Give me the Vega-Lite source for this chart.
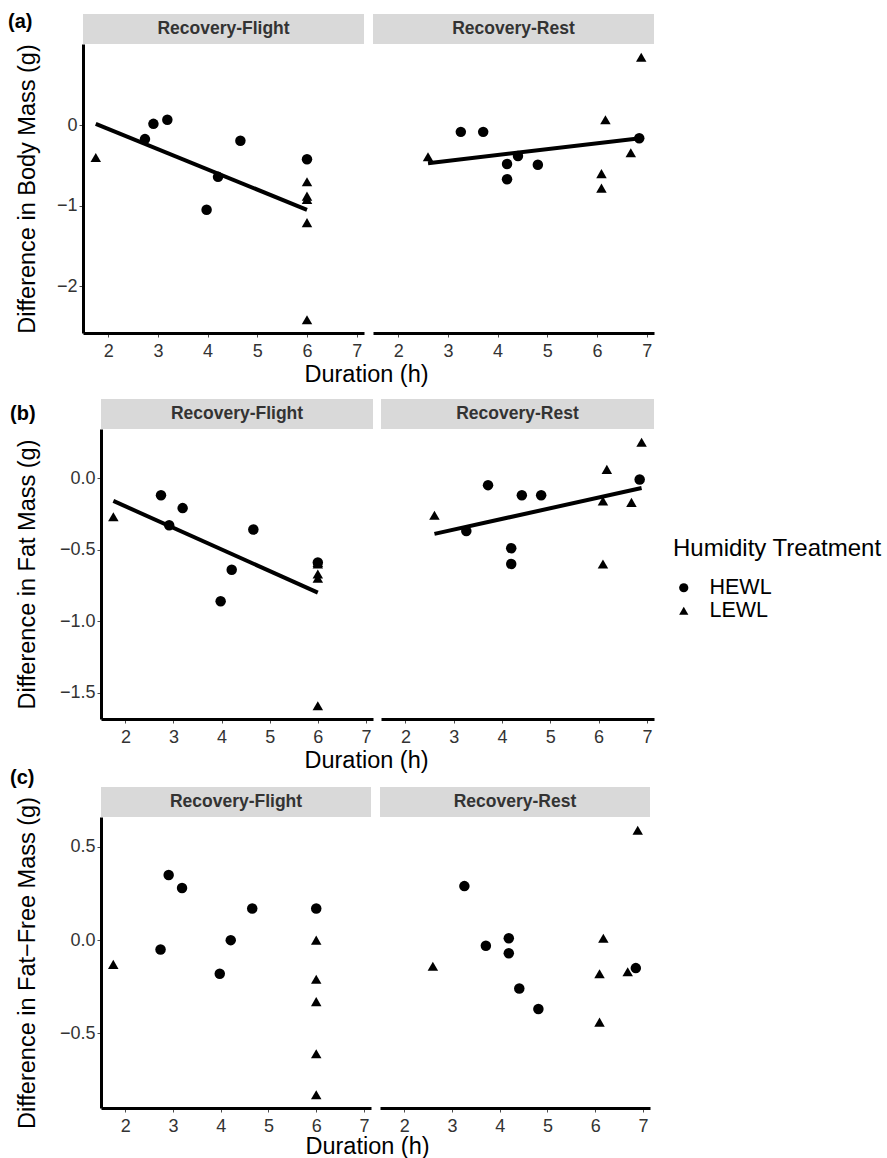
{
"$schema": "https://vega.github.io/schema/vega-lite/v6.json",
"padding": {"left": 5, "top": 12, "right": 0, "bottom": 0},
"background": "white",
"config": {
 "font": "Liberation Sans",
 "view": {"stroke": null},
 "axis": {"grid": false, "domainColor": "black", "domainWidth": 3, "tickColor": "#4d4d4d", "tickSize": 4, "labelFontSize": 18, "labelColor": "#333333", "titleFontSize": 23.5, "titleFontWeight": "normal", "titleColor": "black", "labelPadding": 2},
 "axisX": {"labelPadding": 5},
 "title": {"color": "black"}
},
"datasets": {
 "pts": [
  {"m":"Body","p":"Recovery-Flight","h":"HEWL","x":2.74,"y":-0.17},
  {"m":"Body","p":"Recovery-Flight","h":"HEWL","x":2.91,"y":0.02},
  {"m":"Body","p":"Recovery-Flight","h":"HEWL","x":3.19,"y":0.07},
  {"m":"Body","p":"Recovery-Flight","h":"HEWL","x":3.98,"y":-1.05},
  {"m":"Body","p":"Recovery-Flight","h":"HEWL","x":4.21,"y":-0.64},
  {"m":"Body","p":"Recovery-Flight","h":"HEWL","x":4.66,"y":-0.19},
  {"m":"Body","p":"Recovery-Flight","h":"HEWL","x":6.0,"y":-0.42},
  {"m":"Body","p":"Recovery-Flight","h":"LEWL","x":1.75,"y":-0.40},
  {"m":"Body","p":"Recovery-Flight","h":"LEWL","x":6.0,"y":-0.70},
  {"m":"Body","p":"Recovery-Flight","h":"LEWL","x":6.0,"y":-0.88},
  {"m":"Body","p":"Recovery-Flight","h":"LEWL","x":6.0,"y":-0.92},
  {"m":"Body","p":"Recovery-Flight","h":"LEWL","x":6.0,"y":-1.21},
  {"m":"Body","p":"Recovery-Flight","h":"LEWL","x":6.0,"y":-2.42},
  {"m":"Body","p":"Recovery-Rest","h":"HEWL","x":3.26,"y":-0.08},
  {"m":"Body","p":"Recovery-Rest","h":"HEWL","x":3.71,"y":-0.08},
  {"m":"Body","p":"Recovery-Rest","h":"HEWL","x":4.19,"y":-0.48},
  {"m":"Body","p":"Recovery-Rest","h":"HEWL","x":4.19,"y":-0.67},
  {"m":"Body","p":"Recovery-Rest","h":"HEWL","x":4.41,"y":-0.38},
  {"m":"Body","p":"Recovery-Rest","h":"HEWL","x":4.81,"y":-0.49},
  {"m":"Body","p":"Recovery-Rest","h":"HEWL","x":6.85,"y":-0.16},
  {"m":"Body","p":"Recovery-Rest","h":"LEWL","x":2.60,"y":-0.39},
  {"m":"Body","p":"Recovery-Rest","h":"LEWL","x":6.09,"y":-0.60},
  {"m":"Body","p":"Recovery-Rest","h":"LEWL","x":6.09,"y":-0.78},
  {"m":"Body","p":"Recovery-Rest","h":"LEWL","x":6.17,"y":0.07},
  {"m":"Body","p":"Recovery-Rest","h":"LEWL","x":6.68,"y":-0.34},
  {"m":"Body","p":"Recovery-Rest","h":"LEWL","x":6.89,"y":0.85},
  {"m":"Fat","p":"Recovery-Flight","h":"HEWL","x":2.74,"y":-0.12},
  {"m":"Fat","p":"Recovery-Flight","h":"HEWL","x":2.91,"y":-0.33},
  {"m":"Fat","p":"Recovery-Flight","h":"HEWL","x":3.19,"y":-0.21},
  {"m":"Fat","p":"Recovery-Flight","h":"HEWL","x":3.98,"y":-0.86},
  {"m":"Fat","p":"Recovery-Flight","h":"HEWL","x":4.21,"y":-0.64},
  {"m":"Fat","p":"Recovery-Flight","h":"HEWL","x":4.66,"y":-0.36},
  {"m":"Fat","p":"Recovery-Flight","h":"HEWL","x":6.0,"y":-0.59},
  {"m":"Fat","p":"Recovery-Flight","h":"LEWL","x":1.75,"y":-0.27},
  {"m":"Fat","p":"Recovery-Flight","h":"LEWL","x":6.0,"y":-0.70},
  {"m":"Fat","p":"Recovery-Flight","h":"LEWL","x":6.0,"y":-0.67},
  {"m":"Fat","p":"Recovery-Flight","h":"LEWL","x":6.0,"y":-0.59},
  {"m":"Fat","p":"Recovery-Flight","h":"LEWL","x":6.0,"y":-0.60},
  {"m":"Fat","p":"Recovery-Flight","h":"LEWL","x":6.0,"y":-1.59},
  {"m":"Fat","p":"Recovery-Rest","h":"HEWL","x":3.26,"y":-0.37},
  {"m":"Fat","p":"Recovery-Rest","h":"HEWL","x":3.71,"y":-0.05},
  {"m":"Fat","p":"Recovery-Rest","h":"HEWL","x":4.19,"y":-0.49},
  {"m":"Fat","p":"Recovery-Rest","h":"HEWL","x":4.19,"y":-0.60},
  {"m":"Fat","p":"Recovery-Rest","h":"HEWL","x":4.41,"y":-0.12},
  {"m":"Fat","p":"Recovery-Rest","h":"HEWL","x":4.81,"y":-0.12},
  {"m":"Fat","p":"Recovery-Rest","h":"HEWL","x":6.85,"y":-0.01},
  {"m":"Fat","p":"Recovery-Rest","h":"LEWL","x":2.60,"y":-0.26},
  {"m":"Fat","p":"Recovery-Rest","h":"LEWL","x":6.09,"y":-0.16},
  {"m":"Fat","p":"Recovery-Rest","h":"LEWL","x":6.09,"y":-0.60},
  {"m":"Fat","p":"Recovery-Rest","h":"LEWL","x":6.17,"y":0.06},
  {"m":"Fat","p":"Recovery-Rest","h":"LEWL","x":6.68,"y":-0.17},
  {"m":"Fat","p":"Recovery-Rest","h":"LEWL","x":6.89,"y":0.25},
  {"m":"FFM","p":"Recovery-Flight","h":"HEWL","x":2.74,"y":-0.05},
  {"m":"FFM","p":"Recovery-Flight","h":"HEWL","x":2.91,"y":0.35},
  {"m":"FFM","p":"Recovery-Flight","h":"HEWL","x":3.19,"y":0.28},
  {"m":"FFM","p":"Recovery-Flight","h":"HEWL","x":3.98,"y":-0.18},
  {"m":"FFM","p":"Recovery-Flight","h":"HEWL","x":4.21,"y":0.00},
  {"m":"FFM","p":"Recovery-Flight","h":"HEWL","x":4.66,"y":0.17},
  {"m":"FFM","p":"Recovery-Flight","h":"HEWL","x":6.0,"y":0.17},
  {"m":"FFM","p":"Recovery-Flight","h":"LEWL","x":1.75,"y":-0.13},
  {"m":"FFM","p":"Recovery-Flight","h":"LEWL","x":6.0,"y":0.00},
  {"m":"FFM","p":"Recovery-Flight","h":"LEWL","x":6.0,"y":-0.21},
  {"m":"FFM","p":"Recovery-Flight","h":"LEWL","x":6.0,"y":-0.33},
  {"m":"FFM","p":"Recovery-Flight","h":"LEWL","x":6.0,"y":-0.61},
  {"m":"FFM","p":"Recovery-Flight","h":"LEWL","x":6.0,"y":-0.83},
  {"m":"FFM","p":"Recovery-Rest","h":"HEWL","x":3.26,"y":0.29},
  {"m":"FFM","p":"Recovery-Rest","h":"HEWL","x":3.71,"y":-0.03},
  {"m":"FFM","p":"Recovery-Rest","h":"HEWL","x":4.19,"y":0.01},
  {"m":"FFM","p":"Recovery-Rest","h":"HEWL","x":4.19,"y":-0.07},
  {"m":"FFM","p":"Recovery-Rest","h":"HEWL","x":4.41,"y":-0.26},
  {"m":"FFM","p":"Recovery-Rest","h":"HEWL","x":4.81,"y":-0.37},
  {"m":"FFM","p":"Recovery-Rest","h":"HEWL","x":6.85,"y":-0.15},
  {"m":"FFM","p":"Recovery-Rest","h":"LEWL","x":2.60,"y":-0.14},
  {"m":"FFM","p":"Recovery-Rest","h":"LEWL","x":6.09,"y":-0.44},
  {"m":"FFM","p":"Recovery-Rest","h":"LEWL","x":6.09,"y":-0.18},
  {"m":"FFM","p":"Recovery-Rest","h":"LEWL","x":6.17,"y":0.01},
  {"m":"FFM","p":"Recovery-Rest","h":"LEWL","x":6.68,"y":-0.17},
  {"m":"FFM","p":"Recovery-Rest","h":"LEWL","x":6.89,"y":0.59}
 ],
 "fits": [
  {"m":"Body","p":"Recovery-Flight","x":1.75,"y":0.02},
  {"m":"Body","p":"Recovery-Flight","x":6.0,"y":-1.05},
  {"m":"Body","p":"Recovery-Rest","x":2.60,"y":-0.47},
  {"m":"Body","p":"Recovery-Rest","x":6.87,"y":-0.16},
  {"m":"Fat","p":"Recovery-Flight","x":1.75,"y":-0.16},
  {"m":"Fat","p":"Recovery-Flight","x":6.0,"y":-0.80},
  {"m":"Fat","p":"Recovery-Rest","x":2.60,"y":-0.39},
  {"m":"Fat","p":"Recovery-Rest","x":6.89,"y":-0.07}
 ],
 "stripF": [{"s": "Recovery-Flight"}],
 "stripR": [{"s": "Recovery-Rest"}],
 "none": []
},
"spacing": 12,
"vconcat": [
 {
  "title": {"text": "(a)", "anchor": "start", "frame": "bounds", "fontSize": 20, "fontWeight": "bold", "offset": -18, "dx": 3},
  "vconcat": [{
   "title": {"text": "Duration (h)", "orient": "bottom", "anchor": "middle", "fontSize": 23.5, "fontWeight": "normal", "baseline": "top", "offset": 3, "dx": 37},
   "spacing": 9,
   "hconcat": [
    {"width": 1, "height": 1, "data": {"name": "none"}, "mark": {"type": "point", "opacity": 0}, "encoding": {}},
    {"spacing": 0, "bounds": "flush", "vconcat": [
     {"width": 281, "height": 30, "data": {"name": "stripF"}, "view": {"fill": "#d9d9d9", "stroke": null}, "mark": {"type": "text", "fontSize": 17.5, "fontWeight": "bold", "color": "#333333"}, "encoding": {"text": {"field": "s"}}},
     {"width": 281, "height": 289, "layer": [
      {"data": {"name": "pts"}, "transform": [{"filter": "datum.m === 'Body' && datum.p === 'Recovery-Flight'"}], "mark": {"type": "point", "filled": true, "color": "black", "opacity": 1, "size": 110},
       "encoding": {
        "x": {"field": "x", "type": "quantitative", "scale": {"domain": [1.493, 7.147], "nice": false, "zero": false}, "axis": {"values": [2,3,4,5,6,7], "format": "d", "title": null}},
        "y": {"field": "y", "type": "quantitative", "scale": {"domain": [-2.584, 1.014], "nice": false, "zero": false}, "axis": {"values": [-2,-1,0], "format": "d", "title": "Difference in Body Mass (g)", "titlePadding": 17}},
        "shape": {"field": "h", "type": "nominal", "scale": {"domain": ["HEWL","LEWL"], "range": ["circle","triangle-up"]}, "legend": {"title": "Humidity Treatment", "orient": "none", "legendX": 668, "legendY": 523, "padding": 0, "titleFontSize": 24, "titleFontWeight": "normal", "titleColor": "black", "titleLimit": 400, "titlePadding": 16, "labelFontSize": 21.5, "labelColor": "black", "symbolSize": 85, "symbolFillColor": "black", "symbolStrokeColor": "black", "symbolOffset": 0, "labelOffset": 15, "rowPadding": 0}}}},
      {"data": {"name": "fits"}, "transform": [{"filter": "datum.m === 'Body' && datum.p === 'Recovery-Flight'"}], "mark": {"type": "line", "color": "black", "strokeWidth": 4},
       "encoding": {"x": {"field": "x", "type": "quantitative"}, "y": {"field": "y", "type": "quantitative"}}}
     ]}
    ]},
    {"spacing": 0, "bounds": "flush", "vconcat": [
     {"width": 281, "height": 30, "data": {"name": "stripR"}, "view": {"fill": "#d9d9d9", "stroke": null}, "mark": {"type": "text", "fontSize": 17.5, "fontWeight": "bold", "color": "#333333"}, "encoding": {"text": {"field": "s"}}},
     {"width": 281, "height": 289, "layer": [
      {"data": {"name": "pts"}, "transform": [{"filter": "datum.m === 'Body' && datum.p === 'Recovery-Rest'"}], "mark": {"type": "point", "filled": true, "color": "black", "opacity": 1, "size": 110},
       "encoding": {
        "x": {"field": "x", "type": "quantitative", "scale": {"domain": [1.493, 7.147], "nice": false, "zero": false}, "axis": {"values": [2,3,4,5,6,7], "format": "d", "title": null}},
        "y": {"field": "y", "type": "quantitative", "scale": {"domain": [-2.584, 1.014], "nice": false, "zero": false}, "axis": null},
        "shape": {"field": "h", "type": "nominal", "scale": {"domain": ["HEWL","LEWL"], "range": ["circle","triangle-up"]}, "legend": {"title": "Humidity Treatment", "orient": "none", "legendX": 668, "legendY": 523, "padding": 0, "titleFontSize": 24, "titleFontWeight": "normal", "titleColor": "black", "titleLimit": 400, "titlePadding": 16, "labelFontSize": 21.5, "labelColor": "black", "symbolSize": 85, "symbolFillColor": "black", "symbolStrokeColor": "black", "symbolOffset": 0, "labelOffset": 15, "rowPadding": 0}}}},
      {"data": {"name": "fits"}, "transform": [{"filter": "datum.m === 'Body' && datum.p === 'Recovery-Rest'"}], "mark": {"type": "line", "color": "black", "strokeWidth": 4},
       "encoding": {"x": {"field": "x", "type": "quantitative"}, "y": {"field": "y", "type": "quantitative"}}}
     ]}
    ]}
   ]
  }]
 },
 {
  "spacing": -5,
  "vconcat": [
   {
    "title": {"text": "(b)", "anchor": "start", "frame": "bounds", "fontSize": 20, "fontWeight": "bold", "offset": -25, "dx": 5},
    "vconcat": [{
     "title": {"text": "Duration (h)", "orient": "bottom", "anchor": "middle", "fontSize": 23.5, "fontWeight": "normal", "baseline": "top", "offset": 3, "dx": 37},
     "spacing": 8,
     "hconcat": [
      {"width": 2, "height": 1, "data": {"name": "none"}, "mark": {"type": "point", "opacity": 0}, "encoding": {}},
      {"spacing": 0, "bounds": "flush", "vconcat": [
       {"width": 272, "height": 30, "data": {"name": "stripF"}, "view": {"fill": "#d9d9d9", "stroke": null}, "mark": {"type": "text", "fontSize": 17.5, "fontWeight": "bold", "color": "#333333"}, "encoding": {"text": {"field": "s"}}},
       {"width": 272, "height": 290, "layer": [
        {"data": {"name": "pts"}, "transform": [{"filter": "datum.m === 'Fat' && datum.p === 'Recovery-Flight'"}], "mark": {"type": "point", "filled": true, "color": "black", "opacity": 1, "size": 110},
         "encoding": {
          "x": {"field": "x", "type": "quantitative", "scale": {"domain": [1.493, 7.147], "nice": false, "zero": false}, "axis": {"values": [2,3,4,5,6,7], "format": "d", "title": null}},
          "y": {"field": "y", "type": "quantitative", "scale": {"domain": [-1.682, 0.342], "nice": false, "zero": false}, "axis": {"values": [-1.5,-1,-0.5,0], "format": ".1f", "title": "Difference in Fat Mass (g)", "titlePadding": 20}},
          "shape": {"field": "h", "type": "nominal", "scale": {"domain": ["HEWL","LEWL"], "range": ["circle","triangle-up"]}, "legend": {"title": "Humidity Treatment", "orient": "none", "legendX": 668, "legendY": 523, "padding": 0, "titleFontSize": 24, "titleFontWeight": "normal", "titleColor": "black", "titleLimit": 400, "titlePadding": 16, "labelFontSize": 21.5, "labelColor": "black", "symbolSize": 85, "symbolFillColor": "black", "symbolStrokeColor": "black", "symbolOffset": 0, "labelOffset": 15, "rowPadding": 0}}}},
        {"data": {"name": "fits"}, "transform": [{"filter": "datum.m === 'Fat' && datum.p === 'Recovery-Flight'"}], "mark": {"type": "line", "color": "black", "strokeWidth": 4},
         "encoding": {"x": {"field": "x", "type": "quantitative"}, "y": {"field": "y", "type": "quantitative"}}}
       ]}
      ]},
      {"spacing": 0, "bounds": "flush", "vconcat": [
       {"width": 273, "height": 30, "data": {"name": "stripR"}, "view": {"fill": "#d9d9d9", "stroke": null}, "mark": {"type": "text", "fontSize": 17.5, "fontWeight": "bold", "color": "#333333"}, "encoding": {"text": {"field": "s"}}},
       {"width": 273, "height": 290, "layer": [
        {"data": {"name": "pts"}, "transform": [{"filter": "datum.m === 'Fat' && datum.p === 'Recovery-Rest'"}], "mark": {"type": "point", "filled": true, "color": "black", "opacity": 1, "size": 110},
         "encoding": {
          "x": {"field": "x", "type": "quantitative", "scale": {"domain": [1.493, 7.147], "nice": false, "zero": false}, "axis": {"values": [2,3,4,5,6,7], "format": "d", "title": null}},
          "y": {"field": "y", "type": "quantitative", "scale": {"domain": [-1.682, 0.342], "nice": false, "zero": false}, "axis": null},
          "shape": {"field": "h", "type": "nominal", "scale": {"domain": ["HEWL","LEWL"], "range": ["circle","triangle-up"]}, "legend": {"title": "Humidity Treatment", "orient": "none", "legendX": 668, "legendY": 523, "padding": 0, "titleFontSize": 24, "titleFontWeight": "normal", "titleColor": "black", "titleLimit": 400, "titlePadding": 16, "labelFontSize": 21.5, "labelColor": "black", "symbolSize": 85, "symbolFillColor": "black", "symbolStrokeColor": "black", "symbolOffset": 0, "labelOffset": 15, "rowPadding": 0}}}},
        {"data": {"name": "fits"}, "transform": [{"filter": "datum.m === 'Fat' && datum.p === 'Recovery-Rest'"}], "mark": {"type": "line", "color": "black", "strokeWidth": 4},
         "encoding": {"x": {"field": "x", "type": "quantitative"}, "y": {"field": "y", "type": "quantitative"}}}
       ]}
      ]}
     ]
    }]
   },
   {
    "title": {"text": "(c)", "anchor": "start", "frame": "bounds", "fontSize": 20, "fontWeight": "bold", "offset": -1, "dx": 5},
    "vconcat": [{
     "title": {"text": "Duration (h)", "orient": "bottom", "anchor": "middle", "fontSize": 23.5, "fontWeight": "normal", "baseline": "top", "offset": 0, "dx": 40},
     "spacing": 9,
     "hconcat": [
      {"width": 1, "height": 1, "data": {"name": "none"}, "mark": {"type": "point", "opacity": 0}, "encoding": {}},
      {"spacing": 0, "bounds": "flush", "vconcat": [
       {"width": 270, "height": 30, "data": {"name": "stripF"}, "view": {"fill": "#d9d9d9", "stroke": null}, "mark": {"type": "text", "fontSize": 17.5, "fontWeight": "bold", "color": "#333333"}, "encoding": {"text": {"field": "s"}}},
       {"width": 270, "height": 291, "layer": [
        {"data": {"name": "pts"}, "transform": [{"filter": "datum.m === 'FFM' && datum.p === 'Recovery-Flight'"}], "mark": {"type": "point", "filled": true, "color": "black", "opacity": 1, "size": 110},
         "encoding": {
          "x": {"field": "x", "type": "quantitative", "scale": {"domain": [1.493, 7.147], "nice": false, "zero": false}, "axis": {"values": [2,3,4,5,6,7], "format": "d", "title": null}},
          "y": {"field": "y", "type": "quantitative", "scale": {"domain": [-0.901, 0.661], "nice": false, "zero": false}, "axis": {"values": [-0.5,0,0.5], "format": ".1f", "title": "Difference in Fat−Free Mass (g)", "titlePadding": 20}},
          "shape": {"field": "h", "type": "nominal", "scale": {"domain": ["HEWL","LEWL"], "range": ["circle","triangle-up"]}, "legend": {"title": "Humidity Treatment", "orient": "none", "legendX": 668, "legendY": 523, "padding": 0, "titleFontSize": 24, "titleFontWeight": "normal", "titleColor": "black", "titleLimit": 400, "titlePadding": 16, "labelFontSize": 21.5, "labelColor": "black", "symbolSize": 85, "symbolFillColor": "black", "symbolStrokeColor": "black", "symbolOffset": 0, "labelOffset": 15, "rowPadding": 0}}}}
       ]}
      ]},
      {"spacing": 0, "bounds": "flush", "vconcat": [
       {"width": 270, "height": 30, "data": {"name": "stripR"}, "view": {"fill": "#d9d9d9", "stroke": null}, "mark": {"type": "text", "fontSize": 17.5, "fontWeight": "bold", "color": "#333333"}, "encoding": {"text": {"field": "s"}}},
       {"width": 270, "height": 291, "layer": [
        {"data": {"name": "pts"}, "transform": [{"filter": "datum.m === 'FFM' && datum.p === 'Recovery-Rest'"}], "mark": {"type": "point", "filled": true, "color": "black", "opacity": 1, "size": 110},
         "encoding": {
          "x": {"field": "x", "type": "quantitative", "scale": {"domain": [1.493, 7.147], "nice": false, "zero": false}, "axis": {"values": [2,3,4,5,6,7], "format": "d", "title": null}},
          "y": {"field": "y", "type": "quantitative", "scale": {"domain": [-0.901, 0.661], "nice": false, "zero": false}, "axis": null},
          "shape": {"field": "h", "type": "nominal", "scale": {"domain": ["HEWL","LEWL"], "range": ["circle","triangle-up"]}, "legend": {"title": "Humidity Treatment", "orient": "none", "legendX": 668, "legendY": 523, "padding": 0, "titleFontSize": 24, "titleFontWeight": "normal", "titleColor": "black", "titleLimit": 400, "titlePadding": 16, "labelFontSize": 21.5, "labelColor": "black", "symbolSize": 85, "symbolFillColor": "black", "symbolStrokeColor": "black", "symbolOffset": 0, "labelOffset": 15, "rowPadding": 0}}}}
       ]}
      ]}
     ]
    }]
   }
  ]
 }
]
}
